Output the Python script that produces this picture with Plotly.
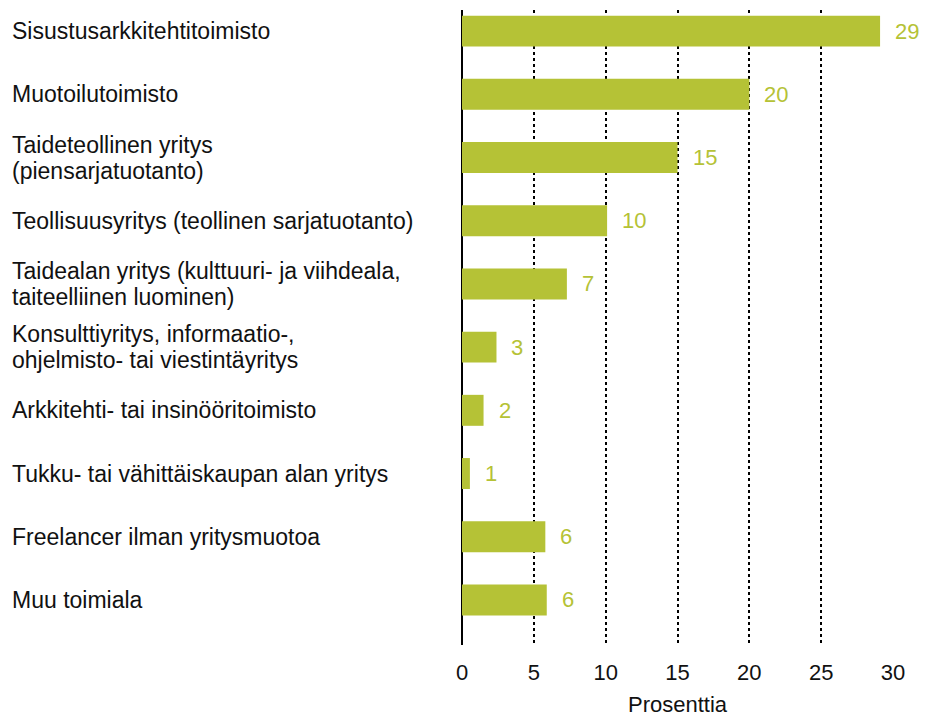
import plotly.graph_objects as go

# categories (top to bottom) and values
categories = [
    "Sisustusarkkitehtitoimisto",
    "Muotoilutoimisto",
    "Taideteollinen yritys<br>(piensarjatuotanto)",
    "Teollisuusyritys (teollinen sarjatuotanto)",
    "Taidealan yritys (kulttuuri- ja viihdeala,<br>taiteelliinen luominen)",
    "Konsulttiyritys, informaatio-,<br>ohjelmisto- tai viestintäyritys",
    "Arkkitehti- tai insinööritoimisto",
    "Tukku- tai vähittäiskaupan alan yritys",
    "Freelancer ilman yritysmuotoa",
    "Muu toimiala",
]
values = [29.1, 20.0, 15.0, 10.1, 7.3, 2.4, 1.5, 0.55, 5.8, 5.9]
value_labels = ["29", "20", "15", "10", "7", "3", "2", "1", "6", "6"]
x_ticks = [0, 5, 10, 15, 20, 25, 30]

GREEN = "#b5c236"
FONT = "Liberation Sans"
LINE_H = 26  # px between lines of a wrapped category label

fig = go.Figure()
fig.add_trace(go.Bar(
    x=values,
    y=categories,
    orientation="h",
    marker=dict(color=GREEN, line=dict(width=0)),
    width=0.49,
    hoverinfo="x+y",
))

annotations = []
for cat, val, lab in zip(categories, values, value_labels):
    # value label next to the bar end
    annotations.append(dict(
        x=val, y=cat, xref="x", yref="y",
        text=lab, showarrow=False,
        xanchor="left", xshift=10,
        font=dict(family=FONT, size=22, color=GREEN),
        bgcolor="white", borderpad=4,
    ))
    # category label on the left, left aligned, one annotation per line
    lines = cat.split("<br>")
    n = len(lines)
    for i, line in enumerate(lines):
        annotations.append(dict(
            x=-1.0487, y=cat, xref="paper", yref="y",
            text=line, showarrow=False,
            xanchor="left", align="left",
            yshift=((n - 1) / 2 - i) * LINE_H,
            font=dict(family=FONT, size=23, color="#111111"),
        ))

fig.update_layout(
    width=928, height=717,
    margin=dict(l=462, r=35, t=10, b=72),
    paper_bgcolor="white", plot_bgcolor="white",
    showlegend=False,
    annotations=annotations,
    font=dict(family=FONT, size=22, color="#111111"),
    xaxis=dict(
        range=[0, 30],
        tickvals=x_ticks,
        showgrid=True, gridcolor="black", gridwidth=1.5, griddash="dot",
        zeroline=True, zerolinecolor="black", zerolinewidth=1.5,
        showline=False, ticks="",
        ticklabelstandoff=12,
        tickfont=dict(family=FONT, size=22, color="#111111"),
        title=dict(text="Prosenttia", standoff=14,
                   font=dict(family=FONT, size=22, color="#111111")),
        automargin=False,
        fixedrange=True,
    ),
    yaxis=dict(
        autorange=False,
        range=[9.713, -0.334],
        showticklabels=False, showgrid=False, zeroline=False, ticks="",
        fixedrange=True,
    ),
)

# drop the default body margin so the figure fills the window exactly
fig.write_html(
    "out.html",
    config={"displayModeBar": False},
    post_script="document.body.style.margin='0';",
)
